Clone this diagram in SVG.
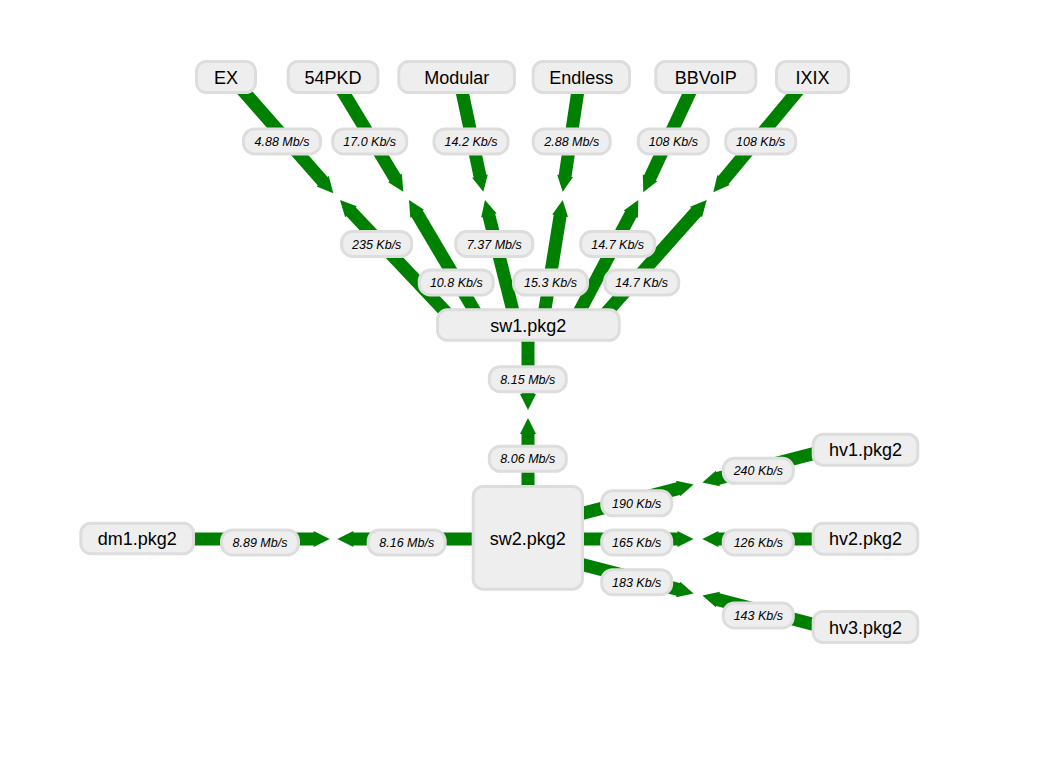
<svg xmlns="http://www.w3.org/2000/svg" width="1043" height="758" viewBox="0 0 1043 758">
<style>
.lk { fill: #008000; }
.lb rect { fill: #eeeeee; stroke: #dddddd; stroke-width: 3; }
.lb text { font-family: "Liberation Sans", Arial, sans-serif; font-size: 12.5px; font-style: italic; fill: #000; text-anchor: middle; }
.nd rect { fill: #eeeeee; stroke: #dddddd; stroke-width: 3; }
.nd text { font-family: "Liberation Sans", Arial, sans-serif; font-size: 18px; fill: #000; text-anchor: middle; }
</style>
<defs>
<polygon id="ah" points="0,0 -16,-8 -16,8" fill="#008000"/>
</defs>
<rect width="1043" height="758" fill="#ffffff"/>
<g id="connectors">
<g class="lk">
<!-- EX - sw1 -->
<g transform="translate(333.3,193.3) rotate(48.67)"><rect x="-154.9" y="-6.5" width="139.9" height="13"/><use href="#ah"/></g>
<g transform="translate(340,200) rotate(-133.35)"><rect x="-171.9" y="-6.5" width="156.9" height="13"/><use href="#ah"/></g>
<!-- 54PKD - sw1 -->
<g transform="translate(403.3,191.7) rotate(58.86)"><rect x="-134" y="-6.5" width="119" height="13"/><use href="#ah"/></g>
<g transform="translate(409,200) rotate(-120.6)"><rect x="-145.3" y="-6.5" width="130.3" height="13"/><use href="#ah"/></g>
<!-- Modular - sw1 -->
<g transform="translate(483.3,191.7) rotate(78.04)"><rect x="-117.2" y="-6.5" width="102.2" height="13"/><use href="#ah"/></g>
<g transform="translate(485,200) rotate(-104.14)"><rect x="-128.9" y="-6.5" width="113.9" height="13"/><use href="#ah"/></g>
<!-- Endless - sw1 -->
<g transform="translate(562.7,191.7) rotate(98.58)"><rect x="-116" y="-6.5" width="101" height="13"/><use href="#ah"/></g>
<g transform="translate(562.7,200) rotate(-80.78)"><rect x="-126.6" y="-6.5" width="111.6" height="13"/><use href="#ah"/></g>
<!-- BBVoIP - sw1 -->
<g transform="translate(643.3,192.3) rotate(114.97)"><rect x="-127.2" y="-6.5" width="112.2" height="13"/><use href="#ah"/></g>
<g transform="translate(638.3,200) rotate(-62.2)"><rect x="-141.3" y="-6.5" width="126.3" height="13"/><use href="#ah"/></g>
<!-- IXIX - sw1 -->
<g transform="translate(713.3,192.3) rotate(129.7)"><rect x="-149.8" y="-6.5" width="134.8" height="13"/><use href="#ah"/></g>
<g transform="translate(706.7,200) rotate(-48.32)"><rect x="-167.4" y="-6.5" width="152.4" height="13"/><use href="#ah"/></g>
<!-- sw1 - sw2 -->
<g transform="translate(528,410) rotate(90)"><rect x="-85" y="-6.5" width="70" height="13"/><use href="#ah"/></g>
<g transform="translate(528,418) rotate(-90)"><rect x="-120" y="-6.5" width="105" height="13"/><use href="#ah"/></g>
<!-- dm1 - sw2 -->
<g transform="translate(329.7,539) rotate(0)"><rect x="-192.7" y="-6.5" width="177.7" height="13"/><use href="#ah"/></g>
<g transform="translate(337.3,539) rotate(180)"><rect x="-189.7" y="-6.5" width="174.7" height="13"/><use href="#ah"/></g>
<!-- sw2 - hv2 -->
<g transform="translate(693.5,539) rotate(0)"><rect x="-166.5" y="-6.5" width="151.5" height="13"/><use href="#ah"/></g>
<g transform="translate(702.3,539) rotate(180)"><rect x="-162.7" y="-6.5" width="147.7" height="13"/><use href="#ah"/></g>
<!-- sw2 - hv1 -->
<g transform="translate(693.6,484.6) rotate(-14.51)"><rect x="-172.1" y="-6.5" width="157.1" height="13"/><use href="#ah"/></g>
<g transform="translate(702.4,482.4) rotate(165.49)"><rect x="-168" y="-6.5" width="153" height="13"/><use href="#ah"/></g>
<!-- sw2 - hv3 -->
<g transform="translate(693.6,593.4) rotate(14.51)"><rect x="-172.1" y="-6.5" width="157.1" height="13"/><use href="#ah"/></g>
<g transform="translate(702.4,595.6) rotate(-165.49)"><rect x="-168" y="-6.5" width="153" height="13"/><use href="#ah"/></g>
</g>
<g class="lb">
<rect x="243.5" y="129" width="77" height="25" rx="11"/><text x="282" y="146">4.88 Mb/s</text>
<rect x="332.7" y="129" width="74" height="25" rx="11"/><text x="369.7" y="146">17.0 Kb/s</text>
<rect x="434" y="129" width="74" height="25" rx="11"/><text x="471" y="146">14.2 Kb/s</text>
<rect x="533.2" y="129" width="77" height="25" rx="11"/><text x="571.7" y="146">2.88 Mb/s</text>
<rect x="638.3" y="129" width="70" height="25" rx="11"/><text x="673.3" y="146">108 Kb/s</text>
<rect x="725.7" y="129" width="70" height="25" rx="11"/><text x="760.7" y="146">108 Kb/s</text>
<rect x="341.7" y="231.5" width="70" height="25" rx="11"/><text x="376.7" y="248.5">235 Kb/s</text>
<rect x="455.8" y="231.5" width="77" height="25" rx="11"/><text x="494.3" y="248.5">7.37 Mb/s</text>
<rect x="580.7" y="231.5" width="74" height="25" rx="11"/><text x="617.7" y="248.5">14.7 Kb/s</text>
<rect x="419.3" y="270" width="74" height="25" rx="11"/><text x="456.3" y="287">10.8 Kb/s</text>
<rect x="513.5" y="270" width="74" height="25" rx="11"/><text x="550.5" y="287">15.3 Kb/s</text>
<rect x="604.7" y="270" width="74" height="25" rx="11"/><text x="641.7" y="287">14.7 Kb/s</text>
<rect x="489.3" y="366.7" width="77" height="25" rx="11"/><text x="527.8" y="383.7">8.15 Mb/s</text>
<rect x="489.3" y="446.3" width="77" height="25" rx="11"/><text x="527.8" y="463.3">8.06 Mb/s</text>
<rect x="601.7" y="490.8" width="70" height="25" rx="11"/><text x="636.7" y="507.8">190 Kb/s</text>
<rect x="601.7" y="530" width="70" height="25" rx="11"/><text x="636.7" y="547">165 Kb/s</text>
<rect x="601.7" y="569.7" width="70" height="25" rx="11"/><text x="636.7" y="586.7">183 Kb/s</text>
<rect x="723.3" y="458.3" width="70" height="25" rx="11"/><text x="758.3" y="475.3">240 Kb/s</text>
<rect x="723.3" y="530" width="70" height="25" rx="11"/><text x="758.3" y="547">126 Kb/s</text>
<rect x="723.3" y="603" width="70" height="25" rx="11"/><text x="758.3" y="620">143 Kb/s</text>
<rect x="221.5" y="530" width="77" height="25" rx="11"/><text x="260" y="547">8.89 Mb/s</text>
<rect x="368.2" y="530" width="77" height="25" rx="11"/><text x="406.7" y="547">8.16 Mb/s</text>
</g>
</g>
<g id="node-EX" class="nd"><rect x="196.5" y="61.5" width="59" height="31" rx="10"/><text x="226" y="83.5">EX</text></g>
<g id="node-54PKD" class="nd"><rect x="288.2" y="61.5" width="89.6" height="31" rx="10"/><text x="333" y="83.5">54PKD</text></g>
<g id="node-Modular" class="nd"><rect x="398.8" y="61.5" width="115.7" height="31" rx="10"/><text x="456.7" y="83.5">Modular</text></g>
<g id="node-Endless" class="nd"><rect x="533.2" y="61.5" width="96.3" height="31" rx="10"/><text x="581.3" y="83.5">Endless</text></g>
<g id="node-BBVoIP" class="nd"><rect x="655.8" y="61.5" width="100" height="31" rx="10"/><text x="705.8" y="83.5">BBVoIP</text></g>
<g id="node-IXIX" class="nd"><rect x="776.5" y="61.5" width="72" height="31" rx="10"/><text x="812.5" y="83.5">IXIX</text></g>
<g id="node-sw1" class="nd"><rect x="437.5" y="309.8" width="181.7" height="30.5" rx="10"/><text x="528.3" y="331.5">sw1.pkg2</text></g>
<g id="node-sw2" class="nd"><rect x="473.2" y="486.5" width="109.3" height="102.7" rx="10"/><text x="527.8" y="545">sw2.pkg2</text></g>
<g id="node-dm1" class="nd"><rect x="80.8" y="523.2" width="112.7" height="30.5" rx="10"/><text x="137.2" y="545">dm1.pkg2</text></g>
<g id="node-hv1" class="nd"><rect x="813.2" y="434.2" width="104.6" height="31" rx="10"/><text x="865.5" y="456.2">hv1.pkg2</text></g>
<g id="node-hv2" class="nd"><rect x="813.2" y="523.2" width="104.6" height="31" rx="10"/><text x="865.5" y="545">hv2.pkg2</text></g>
<g id="node-hv3" class="nd"><rect x="813.2" y="611.5" width="104.6" height="31" rx="10"/><text x="865.5" y="634">hv3.pkg2</text></g>
</svg>
